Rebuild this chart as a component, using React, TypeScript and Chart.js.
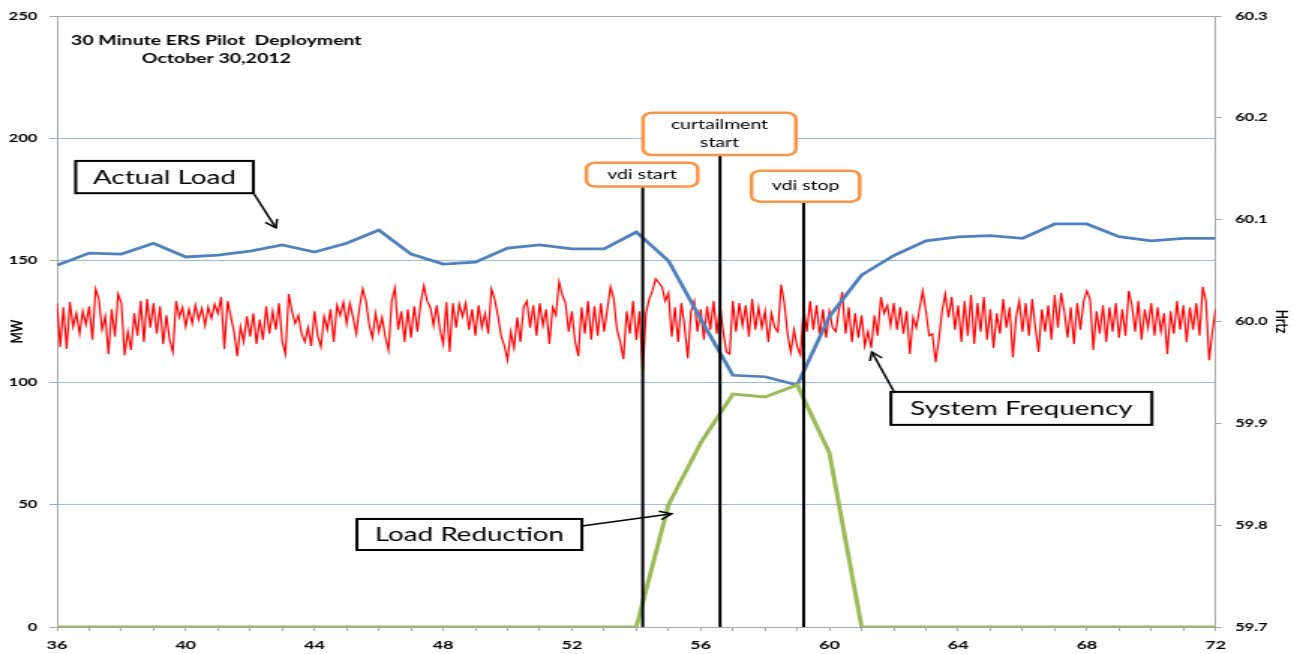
import React, { useEffect, useRef } from "react";
import { Chart, registerables } from "chart.js";

Chart.register(...registerables);

// ---------- data ----------
const minutes = [36, 37, 38, 39, 40, 41, 42, 43, 44, 45, 46, 47, 48, 49, 50, 51, 52, 53, 54, 55, 56, 57, 58, 59, 60, 61, 62, 63, 64, 65, 66, 67, 68, 69, 70, 71, 72];

const actualLoadMW = [148, 153, 152.6, 157, 151.4, 152.2, 153.8, 156.3, 153.4, 157, 162.4, 152.6, 148.5, 149.3, 155, 156.3, 154.7, 154.7, 161.6, 149.8, 126, 103, 102.4, 99, 127, 144, 152, 158, 159.6, 160.1, 159, 164.9, 164.9, 159.7, 158, 159, 159];

const loadReductionMW = [0, 0, 0, 0, 0, 0, 0, 0, 0, 0, 0, 0, 0, 0, 0, 0, 0, 0, 0, 50, 75.3, 95.3, 94.1, 99, 71.3, 0, 0, 0, 0, 0, 0, 0, 0, 0, 0, 0, 0];

// system frequency sampled every 0.1 minute from minute 36
const freqStartMinute = 36;
const freqStepMinute = 0.1;
const frequencyHz = [
  60.018, 59.975, 60.014, 59.973, 60.019, 59.995, 60.008, 59.988, 60.010, 59.997,
  60.015, 59.982, 60.032, 60.022, 59.992, 60.005, 59.968, 60.012, 59.985, 60.027,
  60.018, 59.967, 59.990, 59.972, 60.008, 59.986, 60.020, 59.980, 60.022, 59.994,
  60.018, 59.988, 60.015, 59.978, 60.006, 59.982, 59.970, 60.020, 60.004, 60.014,
  59.995, 60.012, 59.998, 60.016, 60.002, 60.013, 59.996, 60.014, 60.003, 60.017,
  60.008, 60.024, 59.973, 60.020, 60.005, 59.990, 59.966, 59.995, 59.980, 60.005,
  59.985, 60.008, 59.978, 60.002, 59.982, 60.015, 59.988, 60.010, 59.992, 60.018,
  59.980, 59.968, 60.027, 60.010, 59.998, 60.006, 59.988, 59.980, 59.994, 59.976,
  60.010, 59.986, 59.975, 60.005, 59.992, 60.012, 59.980, 60.016, 60.006, 60.019,
  59.998, 60.018, 60.004, 59.988, 60.014, 60.032, 60.020, 59.997, 59.984, 60.008,
  59.990, 60.004, 59.985, 59.972, 60.020, 60.033, 59.992, 60.010, 59.980, 60.012,
  59.984, 60.015, 59.990, 60.018, 60.035, 60.020, 60.014, 59.996, 60.016, 59.992,
  59.978, 60.019, 59.970, 60.018, 59.994, 60.017, 60.005, 60.018, 59.992, 60.012,
  59.986, 60.016, 59.994, 60.008, 59.988, 60.032, 60.022, 60.006, 59.986, 59.976,
  59.962, 59.990, 59.974, 60.004, 59.980, 60.014, 60.020, 59.994, 60.016, 59.986,
  60.018, 59.996, 60.012, 59.978, 60.014, 60.006, 60.039, 60.026, 60.018, 59.990,
  60.010, 59.980, 59.966, 60.014, 59.988, 60.020, 59.982, 60.015, 59.986, 60.018,
  59.990, 60.012, 60.034, 60.022, 59.992, 59.980, 59.963, 60.010, 59.988, 60.020,
  59.982, 60.010, 59.950, 60.008, 60.022, 60.030, 60.042, 60.038, 60.034, 60.020,
  60.028, 59.985, 60.014, 59.980, 60.018, 59.995, 59.964, 60.010, 60.020, 59.990,
  60.012, 59.982, 60.015, 59.992, 60.020, 59.988, 60.016, 59.990, 59.970, 59.968,
  60.020, 59.990, 60.018, 59.996, 60.016, 59.985, 60.022, 59.992, 60.014, 59.994,
  60.010, 59.980, 60.008, 59.994, 59.990, 60.036, 60.018, 59.988, 59.970, 59.992,
  59.975, 59.967, 60.014, 59.990, 60.020, 59.992, 60.016, 59.986, 60.012, 59.984,
  60.010, 59.994, 59.990, 60.012, 60.029, 59.988, 60.014, 59.980, 60.008, 59.984,
  60.006, 59.976, 59.990, 59.974, 60.006, 59.986, 60.024, 60.008, 60.016, 59.996,
  60.018, 59.992, 60.014, 59.988, 60.010, 59.968, 60.004, 59.994, 60.012, 60.030,
  60.010, 59.986, 59.988, 59.960, 59.982, 60.010, 60.027, 60.004, 60.024, 59.992,
  60.016, 59.980, 60.020, 59.986, 60.026, 59.978, 60.018, 59.990, 60.024, 59.982,
  60.012, 59.974, 60.008, 59.988, 60.022, 59.994, 60.014, 59.965, 60.004, 60.020,
  59.990, 60.018, 59.986, 60.022, 59.994, 59.970, 60.012, 59.990, 60.016, 59.982,
  60.026, 59.994, 60.028, 60.010, 59.984, 60.014, 59.978, 60.018, 59.992, 60.020,
  60.030, 60.022, 59.972, 60.010, 59.988, 60.016, 59.980, 60.014, 59.990, 60.018,
  59.984, 60.012, 59.986, 60.030, 60.016, 59.990, 60.020, 59.982, 60.012, 59.994,
  60.018, 59.986, 60.014, 59.990, 60.008, 59.968, 60.010, 59.988, 60.020, 59.992,
  60.016, 59.980, 60.014, 59.992, 60.018, 59.986, 60.034, 60.020, 59.962, 59.990,
  60.012,
];

const xLabelMinutes = [36, 40, 44, 48, 52, 56, 60, 64, 68, 72];
const eventMinutes = [54.2, 56.6, 59.2];
const eventLabels = [["vdi start"], ["curtailment", "start"], ["vdi stop"]];
const calloutLabels = ["Actual Load", "System Frequency", "Load Reduction"];
const titleLines = ["30 Minute ERS Pilot  Deployment", "October 30,2012"];

// ---------- layout (data units: minutes / MW) ----------
const eventBoxes = [
  { x0: 52.45, x1: 55.91, top: 190.0, bottom: 180.2 },
  { x0: 54.21, x1: 58.96, top: 210.4, bottom: 193.1 },
  { x0: 57.58, x1: 60.94, top: 186.7, bottom: 174.0 },
];
const calloutBoxes = [
  { x0: 36.58, x1: 42.1, top: 190.7, bottom: 177.5, from: [42.12, 177.3], to: [42.8, 163.3] },
  { x0: 61.91, x1: 70.02, top: 96.2, bottom: 82.7, from: [62.03, 95.7], to: [61.32, 112.5] },
  { x0: 45.32, x1: 52.31, top: 44.2, bottom: 31.5, from: [52.31, 41.3], to: [55.1, 46.3] },
];
const titlePos = { x: 40.95, y: [240.0, 232.4] };

const CW = 863;
const CH = 654;
const FONT = "Lato";
const GRAY = "#A6A6A6";

function roundRect(ctx: CanvasRenderingContext2D, x: number, y: number, w: number, h: number, r: number) {
  ctx.beginPath();
  ctx.moveTo(x + r, y);
  ctx.lineTo(x + w - r, y);
  ctx.arcTo(x + w, y, x + w, y + r, r);
  ctx.lineTo(x + w, y + h - r);
  ctx.arcTo(x + w, y + h, x + w - r, y + h, r);
  ctx.lineTo(x + r, y + h);
  ctx.arcTo(x, y + h, x, y + h - r, r);
  ctx.lineTo(x, y + r);
  ctx.arcTo(x, y, x + r, y, r);
  ctx.closePath();
}

const annotationPlugin = {
  id: "annotations",
  afterDraw(chart: any) {
    const ctx: CanvasRenderingContext2D = chart.ctx;
    const xs = chart.scales.x;
    const ys = chart.scales.y;
    const px = (v: number) => xs.getPixelForValue(v);
    const py = (v: number) => ys.getPixelForValue(v);
    ctx.save();

    // title
    ctx.fillStyle = "#000";
    ctx.textAlign = "center";
    ctx.textBaseline = "middle";
    ctx.font = `bold 13px ${FONT}`;
    titleLines.forEach((t, i) => ctx.fillText(t, px(titlePos.x), py(titlePos.y[i])));

    // event boxes
    eventBoxes.forEach((b, i) => {
      const x0 = px(b.x0), x1 = px(b.x1), y0 = py(b.top), y1 = py(b.bottom);
      roundRect(ctx, x0, y0, x1 - x0, y1 - y0, 6);
      ctx.fillStyle = "#fff";
      ctx.fill();
      ctx.lineWidth = 2.5;
      ctx.strokeStyle = "#F79646";
      ctx.stroke();
      ctx.fillStyle = "#000";
      ctx.font = `13px ${FONT}`;
      const lines = eventLabels[i];
      const cy = (y0 + y1) / 2;
      const lh = 18;
      lines.forEach((t, k) => {
        ctx.fillText(t, (x0 + x1) / 2, cy + (k - (lines.length - 1) / 2) * lh);
      });
    });

    // callouts
    calloutBoxes.forEach((b, i) => {
      const x0 = px(b.x0), x1 = px(b.x1), y0 = py(b.top), y1 = py(b.bottom);
      ctx.fillStyle = "#fff";
      ctx.fillRect(x0, y0, x1 - x0, y1 - y0);
      ctx.lineWidth = 2;
      ctx.strokeStyle = "#000";
      ctx.strokeRect(x0, y0, x1 - x0, y1 - y0);
      ctx.fillStyle = "#000";
      ctx.font = `18.5px ${FONT}`;
      ctx.fillText(calloutLabels[i], (x0 + x1) / 2, (y0 + y1) / 2 + 1);
      // arrow
      const ax = px(b.from[0]), ay = py(b.from[1]);
      const bx = px(b.to[0]), by = py(b.to[1]);
      ctx.lineWidth = 1.5;
      ctx.beginPath();
      ctx.moveTo(ax, ay);
      ctx.lineTo(bx, by);
      ctx.stroke();
      const ang = Math.atan2(by - ay, bx - ax);
      const L = 9;
      ctx.beginPath();
      ctx.moveTo(bx - L * Math.cos(ang - 0.5), by - L * Math.sin(ang - 0.5));
      ctx.lineTo(bx, by);
      ctx.lineTo(bx - L * Math.cos(ang + 0.5), by - L * Math.sin(ang + 0.5));
      ctx.stroke();
    });

    // axis titles
    const area = chart.chartArea;
    ctx.font = `bold 12px ${FONT}`;
    ctx.save();
    ctx.translate(11.5, (area.top + area.bottom) / 2 + 10);
    ctx.rotate(-Math.PI / 2);
    ctx.fillText("MW", 0, 0);
    ctx.restore();
    ctx.save();
    ctx.translate(CW - 8, (area.top + area.bottom) / 2);
    ctx.rotate(Math.PI / 2);
    ctx.fillText("Hrtz", 0, 0);
    ctx.restore();

    ctx.restore();
  },
};

export default function App() {
  const ref = useRef<HTMLCanvasElement | null>(null);

  useEffect(() => {
    if (!ref.current) return;
    const eventDatasets = eventMinutes.map((m, i) => ({
      label: eventLabels[i].join(" "),
      data: [
        { x: m, y: eventBoxes[i].bottom },
        { x: m, y: 0 },
      ],
      borderColor: "#000",
      borderWidth: 2,
      pointRadius: 0,
      yAxisID: "y",
      order: 0,
    }));
    const chart = new Chart(ref.current, {
      type: "line",
      data: {
        datasets: [
          ...eventDatasets,
          {
            label: "Load Reduction",
            data: minutes.map((m, i) => ({ x: m, y: loadReductionMW[i] })),
            borderColor: "#9BBB59",
            borderWidth: 3,
            pointRadius: 0,
            yAxisID: "y",
            order: 1,
          },
          {
            label: "Actual Load",
            data: minutes.map((m, i) => ({ x: m, y: actualLoadMW[i] })),
            borderColor: "#4F81BD",
            borderWidth: 2.75,
            pointRadius: 0,
            yAxisID: "y",
            order: 2,
          },
          {
            label: "System Frequency",
            data: frequencyHz.map((v, i) => ({ x: freqStartMinute + i * freqStepMinute, y: v })),
            borderColor: "#FF0000",
            borderWidth: 1.2,
            pointRadius: 0,
            yAxisID: "y1",
            order: 3,
          },
        ],
      },
      options: {
        animation: false,
        responsive: false,
        devicePixelRatio: 1,
        events: [],
        layout: { padding: { top: 16, left: 0, right: 0, bottom: 0 } },
        plugins: {
          legend: { display: false },
          tooltip: { enabled: false },
          title: { display: false },
        },
        scales: {
          x: {
            type: "linear",
            min: 36,
            max: 72,
            border: { display: true, color: GRAY, width: 1 },
            grid: { drawOnChartArea: false, drawTicks: true, tickLength: 4, color: GRAY },
            ticks: {
              stepSize: 1,
              autoSkip: false,
              maxRotation: 0,
              padding: 7,
              color: "#000",
              font: { family: FONT, size: 12, weight: "bold" },
              callback: (v: any) => {
                const n = Math.round(Number(v));
                return Math.abs(Number(v) - n) < 1e-6 && xLabelMinutes.includes(n) ? String(n) : "";
              },
            },
            afterFit: (s: any) => {
              s.height = 27;
            },
          },
          y: {
            type: "linear",
            position: "left",
            min: 0,
            max: 250,
            border: { display: true, color: GRAY, width: 1 },
            grid: {
              color: (c: any) => (c.tick && (c.tick.value === 250 || c.tick.value === 0) ? GRAY : "#9DBCE3"),
              tickColor: GRAY,
              tickLength: 5,
              lineWidth: 1,
            },
            ticks: {
              stepSize: 50,
              padding: 8,
              color: "#000",
              font: { family: FONT, size: 11, weight: "bold" },
            },
            afterFit: (s: any) => {
              s.width = 38;
            },
          },
          y1: {
            type: "linear",
            position: "right",
            min: 59.7,
            max: 60.3,
            border: { display: true, color: GRAY, width: 1 },
            grid: { drawOnChartArea: false, tickLength: 4, color: GRAY },
            ticks: {
              stepSize: 0.1,
              padding: 9,
              color: "#000",
              font: { family: FONT, size: 11, weight: "bold" },
              callback: (v: any) => Number(v).toFixed(1),
            },
            afterFit: (s: any) => {
              s.width = CW - 810.7;
            },
          },
        },
      } as any,
      plugins: [annotationPlugin],
    });
    return () => chart.destroy();
  }, []);

  return (
    <div style={{ position: "fixed", left: 0, top: 0, width: 1294, height: 654, background: "#fff" }}>
      <canvas
        ref={ref}
        width={CW}
        height={CH}
        style={{ width: "1294px", height: "654px", display: "block" }}
      />
    </div>
  );
}
